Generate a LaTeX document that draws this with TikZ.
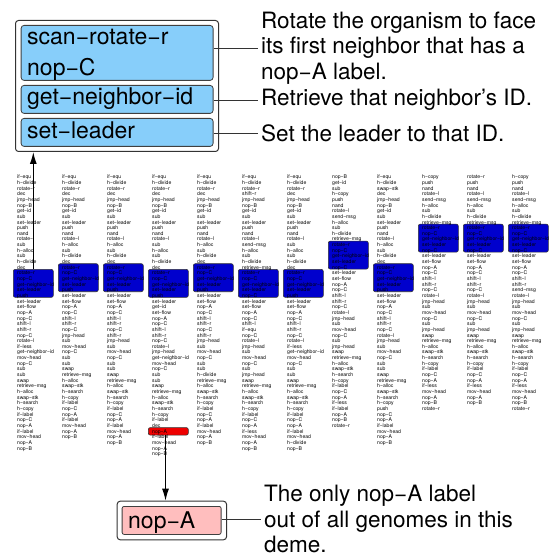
\documentclass[tikz,border=0pt]{standalone}
\usepackage{fontspec}
\setmainfont{TeX Gyre Heros}
\usetikzlibrary{arrows.meta,calc}
\definecolor{sky}{RGB}{135,206,250}
\definecolor{hlblue}{RGB}{0,0,205}
\definecolor{hlred}{RGB}{238,0,0}
\definecolor{pinkbox}{RGB}{255,190,190}
\tikzset{
  gline/.style={anchor=base west,inner sep=0pt,font=\fontsize{5.1}{5.65}\selectfont},
  hlbox/.style={draw=black!80,fill=hlblue,rounded corners=2pt,minimum width=40pt,minimum height=28pt,inner sep=0pt,line width=0.6pt,anchor=north west},
  redbox/.style={draw=black!80,fill=hlred,rounded corners=2pt,minimum width=40pt,minimum height=7.5pt,inner sep=0pt,line width=0.6pt,anchor=north west},
  outerbox/.style={draw=black!80,fill=white,rounded corners=3pt,line width=1pt,inner sep=0pt,anchor=north west},
  skybox/.style={draw=black!75,fill=sky,rounded corners=3pt,line width=0.8pt,inner sep=0pt,anchor=north west},
  pbox/.style={draw=black!75,fill=pinkbox,rounded corners=2pt,line width=0.8pt,inner sep=0pt,anchor=north west},
  bigtxt/.style={anchor=base west,inner sep=0pt,font=\fontsize{23}{31}\selectfont},
  rtxt/.style={anchor=west,inner ysep=0pt,inner xsep=3pt,align=left,font=\fontsize{22.5}{25.5}\selectfont},
  conn/.style={draw=black!80,line width=0.8pt},
  arr/.style={draw=black,line width=1.2pt,-{Latex[length=12pt,width=7pt]}}
}
\newcommand\gencol[3]{%
  \pgfmathsetmacro\gx{17+45*(#1-1)}%
  \node[hlbox] (hl#1) at ({\gx-4},{-(177+(#2-1)*5.65-4)}) {};
  \foreach \t [count=\i] in {#3} {\node[gline] (c#1-\i) at ({\gx},{-(177+(\i-1)*5.65+1.8)}) {\t};}
}
\begin{document}
\begin{tikzpicture}[x=1pt,y=1pt]
\useasboundingbox (0,0) rectangle (555,-556);
% top box
\node[outerbox,minimum width=203pt,minimum height=131pt] (topbox) at (15,-20) {};
\node[skybox,minimum width=192pt,minimum height=55pt] (b1) at (20.7,-25) {};
\node[skybox,minimum width=192pt,minimum height=28pt] (b2) at (20.7,-85) {};
\node[skybox,minimum width=192pt,minimum height=28pt] (b3) at (20.7,-118) {};
\node[bigtxt] (b1t) at (27,-45) {scan−rotate−r};
\node[bigtxt] (b1u) at (27,-76) {nop−C};
\node[bigtxt] (b2t) at (27,-105) {get−neighbor−id};
\node[bigtxt] (b3t) at (27,-139) {set−leader};
\node[rtxt] (r1) at (258,-48) {Rotate the organism to face\\its first neighbor that has a\\nop−A label.};
\node[rtxt] (r2) at (258,-100) {Retrieve that neighbor’s ID.};
\node[rtxt] (r3) at (258,-133) {Set the leader to that ID.};
\draw[conn] (b1.east |- r1.west) -- (r1.west);
\draw[conn] (b2.east |- r2.west) -- (r2.west);
\draw[conn] (b3.east |- r3.west) -- (r3.west);
% genomes
\gencol{1}{18}{if−equ,h−divide,rotate−r,dec,jmp−head,nop−B,get−id,sub,set−leader,push,nand,rotate−l,sub,h−alloc,sub,h−divide,dec,rotate−r,nop−C,get−neighbor−id,set−leader,push,set−leader,set−flow,nop−A,nop−C,shift−l,shift−r,nop−C,rotate−l,if−less,get−neighbor−id,mov−head,nop−C,sub,sub,swap,retrieve−msg,h−alloc,swap−stk,h−search,h−copy,if−label,nop−C,nop−A,if−label,mov−head,nop−A,nop−B}
\gencol{2}{17}{if−equ,h−divide,rotate−r,dec,jmp−head,nop−B,get−id,sub,set−leader,push,nand,rotate−l,h−alloc,sub,h−divide,dec,rotate−r,nop−C,get−neighbor−id,set−leader,push,set−leader,set−flow,nop−A,nop−C,shift−l,shift−r,nop−C,jmp−head,sub,mov−head,nop−C,sub,sub,swap,retrieve−msg,h−alloc,swap−stk,h−search,h−copy,if−label,nop−C,nop−A,if−label,mov−head,nop−A,nop−B}
\gencol{3}{17}{if−equ,h−divide,rotate−r,dec,jmp−head,nop−B,get−id,sub,set−leader,push,nand,rotate−l,h−alloc,sub,h−divide,dec,rotate−r,nop−C,get−neighbor−id,set−leader,push,set−leader,set−flow,nop−A,nop−C,shift−l,shift−r,nop−C,shift−r,jmp−head,sub,mov−head,nop−C,sub,sub,swap,retrieve−msg,h−alloc,swap−stk,h−search,h−copy,if−label,nop−C,nop−A,if−label,mov−head,nop−A,nop−B}
\node[redbox] (red) at (148,-427.3) {};
\gencol{4}{18}{if−equ,h−divide,rotate−r,dec,jmp−head,nop−B,get−id,sub,set−leader,push,nand,rotate−l,sub,h−alloc,sub,h−divide,dec,rotate−r,nop−C,get−neighbor−id,set−leader,push,set−leader,get−id,set−flow,nop−A,nop−C,shift−l,shift−r,nop−C,rotate−l,jmp−head,get−neighbor−id,mov−head,nop−C,sub,sub,swap,retrieve−msg,h−alloc,swap−stk,h−search,h−copy,if−label,dec,nop−A,if−label,mov−head,nop−A,nop−B}
\gencol{5}{17}{if−equ,h−divide,rotate−r,dec,jmp−head,nop−B,get−id,sub,set−leader,push,nand,rotate−l,h−alloc,sub,h−divide,dec,rotate−r,nop−C,get−neighbor−id,set−leader,push,set−leader,set−flow,nop−A,nop−C,shift−l,shift−r,nop−C,shift−r,jmp−head,sub,mov−head,nop−C,sub,sub,h−divide,retrieve−msg,h−alloc,swap−stk,h−search,h−copy,if−label,nop−C,nop−A,if−label,mov−head,nop−A,nop−B}
\gencol{6}{18}{if−equ,h−divide,rotate−r,shift−r,jmp−head,nop−B,get−id,sub,set−leader,push,nand,rotate−l,send−msg,h−alloc,sub,h−divide,retrieve−msg,rotate−r,nop−C,get−neighbor−id,set−leader,nop−C,set−leader,set−flow,nop−A,nop−C,shift−l,if−equ,nop−C,rotate−l,jmp−head,sub,mov−head,nop−C,sub,jmp−head,swap,retrieve−msg,h−alloc,swap−stk,h−search,h−copy,if−label,nop−C,nop−A,if−less,mov−head,nop−A,nop−B}
\gencol{7}{18}{if−equ,h−divide,rotate−r,dec,jmp−head,nop−B,get−id,sub,set−leader,push,nand,rotate−l,sub,h−alloc,sub,h−divide,dec,rotate−r,nop−C,get−neighbor−id,set−leader,push,set−leader,set−flow,nop−A,nop−C,shift−l,shift−r,nop−C,rotate−l,if−less,get−neighbor−id,mov−head,nop−C,sub,sub,swap,retrieve−msg,h−alloc,swap−stk,h−search,h−copy,if−label,nop−C,nop−A,if−label,mov−head,h−divide,nop−B}
\gencol{8}{13}{nop−B,get−id,sub,h−copy,push,nand,rotate−l,send−msg,h−alloc,sub,h−divide,retrieve−msg,rotate−r,nop−C,get−neighbor−id,set−leader,nop−C,set−leader,set−flow,nop−A,nop−C,shift−l,shift−r,nop−C,rotate−l,jmp−head,sub,mov−head,nop−C,sub,jmp−head,swap,retrieve−msg,h−alloc,swap−stk,h−search,h−copy,if−label,nop−C,nop−A,if−less,if−label,nop−A,nop−B,rotate−r}
\gencol{9}{17}{if−equ,h−divide,swap−stk,dec,jmp−head,nop−B,get−id,sub,set−leader,push,nand,rotate−l,h−alloc,sub,h−divide,dec,rotate−r,nop−C,get−neighbor−id,set−leader,push,set−leader,set−flow,nop−A,nop−C,shift−l,shift−r,nop−C,rotate−l,jmp−head,sub,mov−head,nop−C,sub,sub,swap,retrieve−msg,h−alloc,swap−stk,h−search,h−copy,push,nop−C,nop−A,if−label,mov−head,nop−A,nop−B}
\gencol{10}{10}{h−copy,push,nand,rotate−l,send−msg,h−alloc,sub,h−divide,retrieve−msg,rotate−r,nop−C,get−neighbor−id,set−leader,nop−C,set−leader,set−flow,nop−A,nop−C,shift−l,shift−r,nop−C,rotate−l,jmp−head,sub,mov−head,nop−C,sub,jmp−head,swap,retrieve−msg,h−alloc,swap−stk,h−search,h−copy,if−label,nop−C,nop−A,if−less,mov−head,nop−A,nop−B,rotate−r}
\gencol{11}{10}{rotate−r,push,nand,rotate−l,send−msg,h−alloc,sub,h−divide,retrieve−msg,rotate−r,nop−C,get−neighbor−id,set−leader,nop−C,set−leader,set−flow,nop−A,nop−C,shift−l,shift−r,nop−C,rotate−l,jmp−head,sub,mov−head,nop−C,sub,jmp−head,swap,retrieve−msg,h−alloc,swap−stk,h−search,h−copy,if−label,nop−C,nop−A,if−less,mov−head,nop−A,nop−B}
\gencol{12}{10}{h−copy,push,nand,rotate−l,send−msg,h−alloc,sub,h−divide,retrieve−msg,rotate−r,nop−C,get−neighbor−id,set−leader,nop−C,set−leader,set−flow,nop−A,nop−C,shift−l,shift−r,send−msg,rotate−l,jmp−head,sub,mov−head,nop−C,sub,jmp−head,swap,retrieve−msg,h−alloc,swap−stk,h−search,h−copy,if−label,nop−C,nop−A,if−less,mov−head,nop−A,nop−B,rotate−r}
% bottom box
\node[outerbox,minimum width=109.3pt,minimum height=38.6pt] (botbox) at (116.7,-500.7) {};
\node[pbox,minimum width=99pt,minimum height=28pt] (pink) at (121.7,-506) {};
\node[bigtxt] (pt) at (128,-528) {nop−A};
\node[rtxt] (bt) at (261,-519) {The only nop−A label\\out of all genomes in this\\deme.};
\draw[conn] (pink.east |- bt.west) -- (bt.west);
% arrows
\draw[arr] (hl1.north) -- (hl1.north |- topbox.south);
\coordinate (a2) at (165.5,-434.8);
\draw[arr] (a2) -- (a2 |- botbox.north);
\end{tikzpicture}
\end{document}
